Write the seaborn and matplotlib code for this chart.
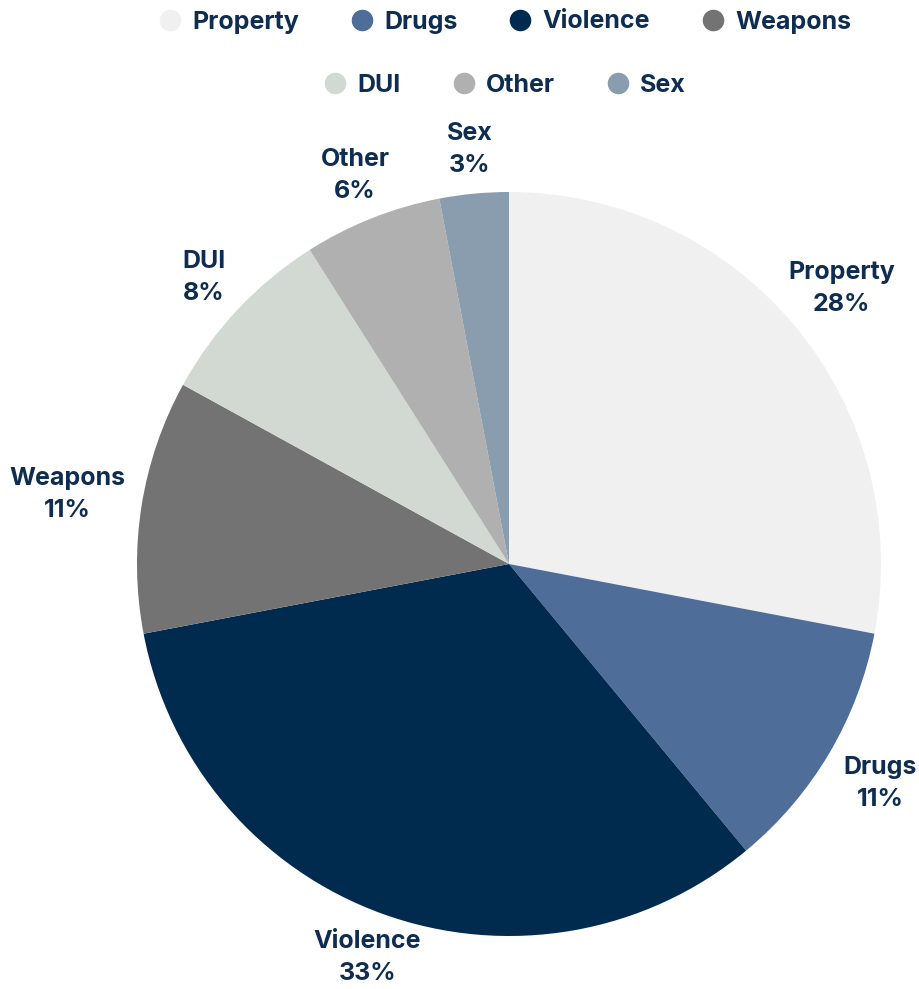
import matplotlib
matplotlib.use("Agg")
import numpy as np
import matplotlib.pyplot as plt
from matplotlib.lines import Line2D
import seaborn as sns

# Dados
categorias = ["Property", "Drugs", "Violence", "Weapons", "DUI", "Other", "Sex"]
percentuais = [28, 11, 33, 11, 8, 6, 3]
cores = ["#f0f0f0", "#4f6d99", "#002b4f", "#737373", "#d2d8d2", "#b0b0b0", "#8a9dae"]

sns.set_style("white")
plt.rcParams["font.family"] = ["Inter", "DejaVu Sans"]
cor_texto = "#0e2d50"

fig = plt.figure(figsize=(9.19, 9.89), dpi=100)
ax = fig.add_axes([(509 - 372) / 919, (425 - 372) / 989, 744 / 919, 744 / 989])

paleta = sns.color_palette(cores)
rotulos = [f"{c}\n{p}%" for c, p in zip(categorias, percentuais)]
fatias, textos = ax.pie(percentuais, colors=paleta, startangle=90, counterclock=False,
                        labels=rotulos, labeldistance=1.2,
                        wedgeprops=dict(linewidth=0),
                        textprops=dict(color=cor_texto, fontsize=18, fontweight="bold",
                                       linespacing=1.5))
ax.set_xlim(-1, 1)
ax.set_ylim(-1, 1)
ax.set_aspect("equal")

# Rotulos encostados na borda externa da pizza
fig.canvas.draw()
render = fig.canvas.get_renderer()
px_por_unidade = ax.transData.transform((1, 0))[0] - ax.transData.transform((0, 0))[0]
for fatia, t in zip(fatias, textos):
    t.set_horizontalalignment("center")
    t.set_verticalalignment("center")
    t.set_clip_on(False)
    bb = t.get_window_extent(render)
    meia_l = bb.width / 2 / px_por_unidade
    meia_a = bb.height / 2 / px_por_unidade
    ang = np.deg2rad((fatia.theta1 + fatia.theta2) / 2)
    c, s = abs(np.cos(ang)), abs(np.sin(ang))
    d = min(meia_l / c if c > 1e-6 else 1e9, meia_a / s if s > 1e-6 else 1e9)
    r = 1.045 + d
    t.set_position((r * np.cos(ang), r * np.sin(ang)))

# Legenda em duas linhas
def alca(cor):
    return Line2D([], [], marker="o", linestyle="", markersize=14.5,
                  markerfacecolor=cor, markeredgecolor=cor)

linhas = [(0, 4, 22), (4, 7, 85)]
for ini, fim, y in linhas:
    leg = fig.legend([alca(c) for c in cores[ini:fim]], categorias[ini:fim],
                     loc="center", bbox_to_anchor=(503 / 919, 1 - y / 989),
                     ncol=fim - ini, frameon=False, handletextpad=0.3,
                     columnspacing=1.9, handlelength=1.2,
                     prop=dict(size=18, weight="bold"))
    for t in leg.get_texts():
        t.set_color(cor_texto)

fig.savefig("out.png", dpi=100)
